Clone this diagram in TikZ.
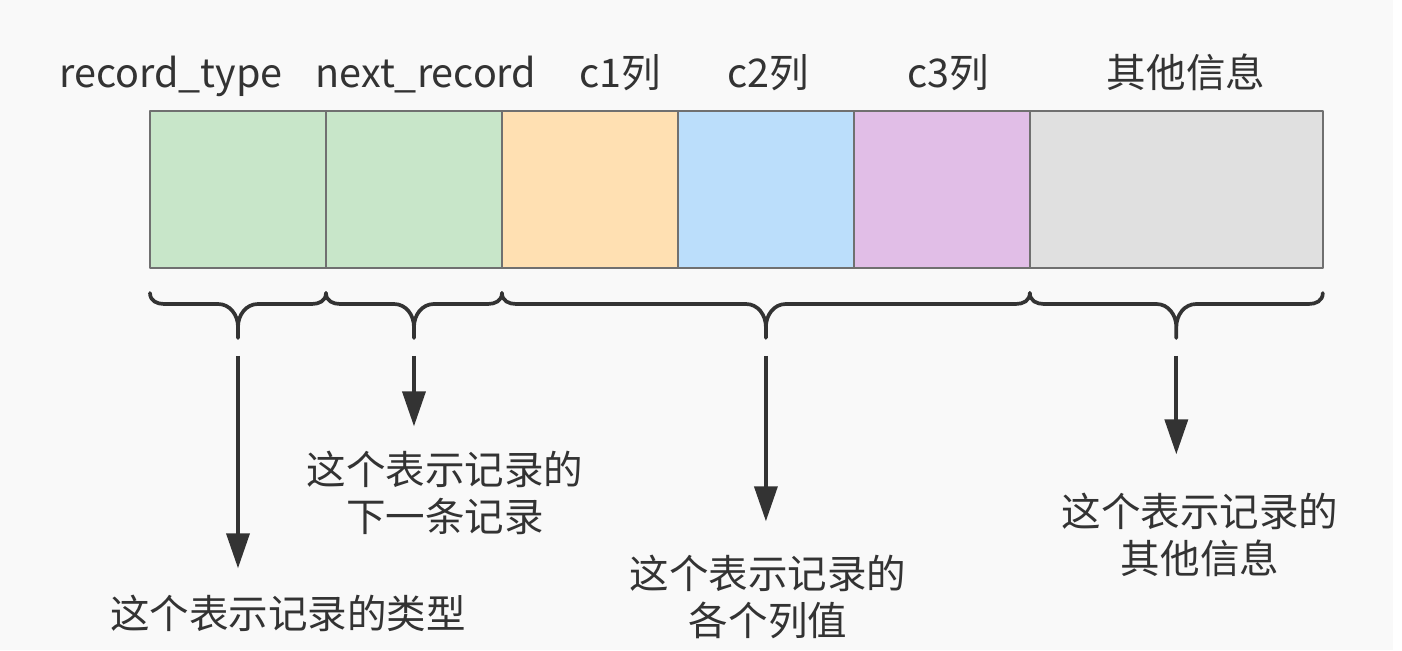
\documentclass[tikz,border=0pt]{standalone}
\usepackage{fontspec}
\setmainfont{Noto Sans CJK SC}
\usetikzlibrary{arrows.meta, positioning, calc}
\definecolor{recgreen}{HTML}{C8E6C9}
\definecolor{recorange}{HTML}{FFE0B2}
\definecolor{recblue}{HTML}{BBDEFB}
\definecolor{recpurple}{HTML}{E1BEE7}
\definecolor{recgray}{HTML}{E0E0E0}
\definecolor{cellline}{HTML}{707070}
\definecolor{ink}{HTML}{333333}
\definecolor{paper}{HTML}{F9F9F9}

\begin{document}
\begin{tikzpicture}[x=0.02cm, y=-0.02cm, line join=round, line cap=round]
        \tikzset{cell/.style={draw=cellline, line width=1.1pt, minimum width=3.52cm,
                              minimum height=3.14cm, inner sep=0pt, outer sep=0pt}}
        \tikzset{toplbl/.style={anchor=base, text=ink, inner sep=0pt,
                                font=\fontsize{22.5}{26.7}\selectfont}}
        \tikzset{lbl/.style={align=center, text=ink, inner sep=0pt,
                             font=\fontsize{22.5}{26.7}\selectfont}}
        \tikzset{brc/.style={ink, line width=2.1pt}}
        \tikzset{arr/.style={-{Triangle[length=0.7cm, width=0.46cm]}, ink, line width=2.1pt,
                             line cap=butt, shorten <=0.36cm}}
        \fill[paper] (0,0) rectangle (1393,650);
        \useasboundingbox (0,0) rectangle (1402,650);
        % the record row
        \node[cell, fill=recgreen] (f1) at (238,189.5) {};
        \node[cell, fill=recgreen, right=0pt of f1] (f2) {};
        \node[cell, fill=recorange, right=0pt of f2] (f3) {};
        \node[cell, fill=recblue, right=0pt of f3] (f4) {};
        \node[cell, fill=recpurple, right=0pt of f4] (f5) {};
        \node[cell, fill=recgray, minimum width=5.86cm, right=0pt of f5] (f6) {};
        % field names
        \node[toplbl] (h1) at (171,87) {record\_type};
        \node[toplbl] (h2) at (426,87) {next\_record};
        \node[toplbl] (h3) at (620,87) {c1列};
        \node[toplbl] (h4) at (768,87) {c2列};
        \node[toplbl] (h5) at (948,87) {c3列};
        \node[toplbl] (h6) at (1186,87) {其他信息};
        % braces under the fields
        \foreach \l/\r/\k in {f1/f1/1, f2/f2/2, f3/f5/3, f6/f6/4} {
            \coordinate (m\k) at ($(\l.south west)!0.5!(\r.south east)$);
            \draw[brc] ($(\l.south west)+(0,25)$) .. controls +(0,8) and +(-7,0) .. ++(14,11)
                -- ($(m\k)+(-20,36)$) .. controls +(12,0) and +(0,-12) .. ++(20,23)
                -- ++(0,11) coordinate (tip\k) -- ++(0,-11)
                .. controls +(0,-12) and +(-12,0) .. ++(20,-23)
                -- ($(\r.south east)+(-14,36)$) .. controls +(7,0) and +(0,8) .. ++(14,-11);
        }
        % what each part means
        \node[lbl] (l1) at (288,613) {这个表示记录的类型};
        \node[lbl] (l2) at (445,493) {这个表示记录的\\下一条记录};
        \node[lbl] (l3) at (768,597) {这个表示记录的\\各个列值};
        \node[lbl] (l4) at (1200,535) {这个表示记录的\\其他信息};
        \foreach \k/\gap in {1/0.52cm, 2/0.49cm, 3/0.67cm, 4/0.77cm} {
            \draw[arr, shorten >=\gap] (tip\k) -- (tip\k |- l\k.north);
        }
    \end{tikzpicture}
\end{document}
